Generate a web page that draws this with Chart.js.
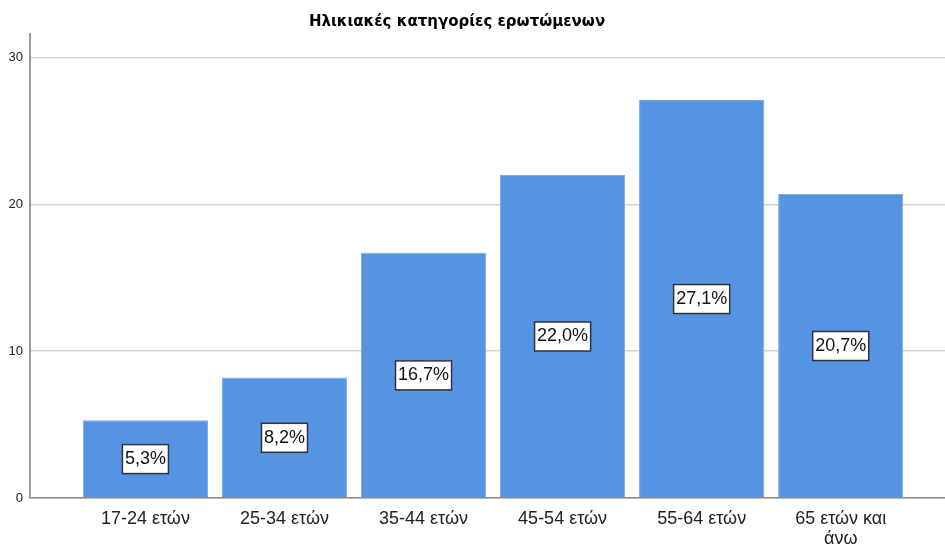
<!DOCTYPE html>
<html>
<head>
<meta charset="utf-8">
<script src="https://cdn.jsdelivr.net/npm/chart.js@4"></script>
<style>
  html, body { margin: 0; padding: 0; background: #fff; }
  #wrap { width: 945px; height: 544px; position: relative; }
</style>
</head>
<body>
<div id="wrap"><canvas id="ageChart"></canvas></div>
<script>
// ==========================
// データ
// ==========================
const chartTitle = "Ηλικιακές κατηγορίες ερωτώμενων";
const categories = ["17-24 ετών", "25-34 ετών", "35-44 ετών", "45-54 ετών", "55-64 ετών", ["65 ετών και", "άνω"]];
const percents = [5.3, 8.2, 16.7, 22.0, 27.1, 20.7];
const yTicks = [0, 10, 20, 30];

const points = percents.map((v, i) => ({ x: i + 1, y: v }));

// ==========================
// タイトル描画
// ==========================
const titlePlugin = {
  id: "titleText",
  afterDraw(chart) {
    const ctx = chart.ctx;
    ctx.save();
    ctx.font = "bold 15px 'DejaVu Sans'";
    ctx.fillStyle = "#000";
    ctx.textAlign = "center";
    ctx.textBaseline = "middle";
    ctx.fillText(chartTitle, 457, 22);
    ctx.restore();
  }
};

// ==========================
// 値ラベル（白い箱）
// ==========================
const boxLabels = {
  id: "boxLabels",
  afterDatasetsDraw(chart) {
    const ctx = chart.ctx;
    const yScale = chart.scales.y;
    const meta = chart.getDatasetMeta(0);
    ctx.save();
    ctx.font = "18px 'Liberation Sans'";
    ctx.textAlign = "center";
    ctx.textBaseline = "middle";
    meta.data.forEach((bar, i) => {
      const v = percents[i];
      const text = v.toFixed(1).replace(".", ",") + "%";
      const cy = yScale.getPixelForValue(v / 2);
      const w = ctx.measureText(text).width + 5;
      const h = 29;
      ctx.fillStyle = "#fff";
      ctx.fillRect(bar.x - w / 2, cy - h / 2, w, h);
      ctx.strokeStyle = "#333";
      ctx.lineWidth = 1.5;
      ctx.strokeRect(bar.x - w / 2, cy - h / 2, w, h);
      ctx.fillStyle = "#111";
      ctx.fillText(text, bar.x, cy);
    });
    ctx.restore();
  }
};

const ctx = document.getElementById("ageChart").getContext("2d");
new Chart(ctx, {
  type: "bar",
  data: {
    datasets: [{
      data: points,
      backgroundColor: "#5594e2",
      borderColor: "#7aaae8",
      borderWidth: 1,
      barPercentage: 0.9,
      categoryPercentage: 1
    }]
  },
  options: {
    responsive: true,
    maintainAspectRatio: false,
    animation: false,
    layout: { padding: { top: 34, right: 0, left: 0, bottom: 0 } },
    plugins: { legend: { display: false }, tooltip: { enabled: false } },
    scales: {
      x: {
        type: "linear",
        offset: false,
        min: 0.17,
        max: 6.75,
        afterBuildTicks: s => { s.ticks = categories.map((c, i) => ({ value: i + 1 })); },
        afterFit: s => { s.height = 46; },
        grid: { display: false },
        border: { display: true, color: "#8c8c8c", width: 1.5 },
        ticks: {
          padding: 3,
          color: "#222",
          maxRotation: 0,
          autoSkip: false,
          font: { family: "'Liberation Sans'", size: 18, lineHeight: 1.1 },
          callback: (v) => categories[v - 1]
        }
      },
      y: {
        min: 0,
        max: 31.6,
        afterBuildTicks: s => { s.ticks = yTicks.map(v => ({ value: v })); },
        afterFit: s => { s.width = 30; },
        grid: { color: "#d2d2d2", lineWidth: 1.5, drawTicks: false },
        border: { display: true, color: "#9a9a9a", width: 2 },
        ticks: {
          padding: 7,
          color: "#222",
          font: { family: "'Liberation Sans'", size: 13 }
        }
      }
    }
  },
  plugins: [boxLabels, titlePlugin]
});
</script>
</body>
</html>
